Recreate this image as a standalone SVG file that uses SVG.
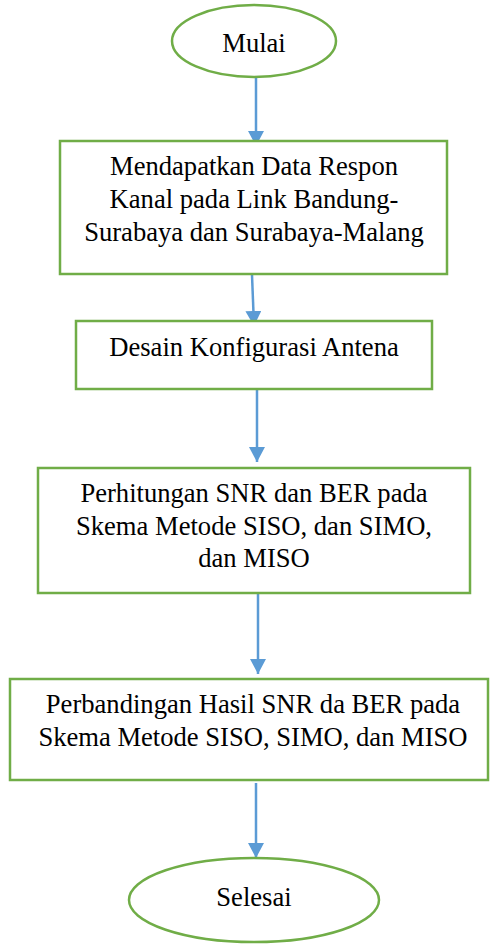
<svg xmlns="http://www.w3.org/2000/svg" width="490" height="944" viewBox="0 0 490 944">
  <style>
    .shape { fill: #ffffff; stroke: #70AD47; stroke-width: 2.5; }
    .label { font-family: "Liberation Serif", "Times New Roman", serif; font-size: 26.6px; fill: #000000; text-anchor: middle; }
    .flow { stroke: #5B9BD5; stroke-width: 2.5; fill: none; marker-end: url(#head); }
  </style>
  <defs>
    <marker id="head" markerUnits="userSpaceOnUse" markerWidth="16" markerHeight="16" viewBox="0 0 16 16" refX="15" refY="8" orient="auto">
      <path d="M0,0 L15,8 L0,16 Z" fill="#5B9BD5"/>
    </marker>
  </defs>

  <g id="connectors">
    <line class="flow" x1="256" y1="78" x2="256" y2="146"/>
    <line class="flow" x1="252" y1="275" x2="254" y2="326"/>
    <line class="flow" x1="257" y1="390" x2="257" y2="462"/>
    <line class="flow" x1="258" y1="594" x2="258" y2="674"/>
    <line class="flow" x1="256" y1="783" x2="256" y2="858"/>
  </g>

  <g id="start">
    <ellipse class="shape" cx="254" cy="41" rx="82" ry="36"/>
    <text class="label" x="254" y="52">Mulai</text>
  </g>

  <g id="step-data">
    <rect class="shape" x="60" y="141" width="387" height="133"/>
    <text class="label" x="254" y="175">Mendapatkan Data Respon</text>
    <text class="label" x="254" y="208">Kanal pada Link Bandung-</text>
    <text class="label" x="254" y="241">Surabaya dan Surabaya-Malang</text>
  </g>

  <g id="step-antenna">
    <rect class="shape" x="76" y="321" width="356" height="68"/>
    <text class="label" x="254" y="356">Desain Konfigurasi Antena</text>
  </g>

  <g id="step-calc">
    <rect class="shape" x="38" y="468" width="432" height="125"/>
    <text class="label" x="254" y="502">Perhitungan SNR dan BER pada</text>
    <text class="label" x="254" y="535">Skema Metode SISO, dan SIMO,</text>
    <text class="label" x="254" y="567">dan MISO</text>
  </g>

  <g id="step-compare">
    <rect class="shape" x="10" y="679" width="478" height="101"/>
    <text class="label" x="253" y="713">Perbandingan Hasil SNR da BER pada</text>
    <text class="label" x="253" y="746">Skema Metode SISO, SIMO, dan MISO</text>
  </g>

  <g id="end">
    <ellipse class="shape" cx="254" cy="900" rx="125" ry="42"/>
    <text class="label" x="254" y="906">Selesai</text>
  </g>
</svg>
